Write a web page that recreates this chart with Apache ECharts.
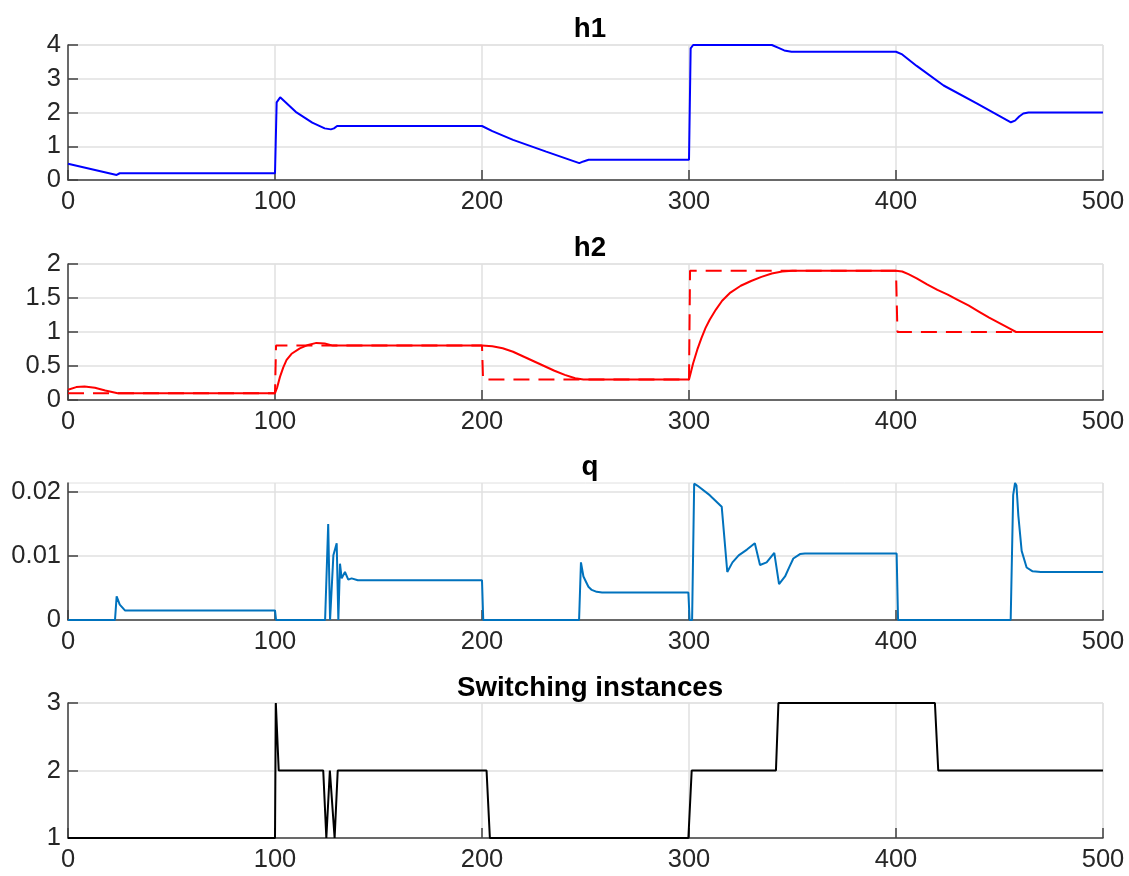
<!DOCTYPE html>
<html>
<head>
<meta charset="utf-8">
<title>h1 / h2 / q / switching</title>
<script src="https://cdn.jsdelivr.net/npm/echarts@6/dist/echarts.min.js"></script>
<style>
  html, body { margin: 0; padding: 0; background: #fff; }
  #chart { width: 1129px; height: 876px; }
</style>
</head>
<body>
<div id="chart"></div>
<script>
// tick labels of the shared x axis
const xTicks = [0, 100, 200, 300, 400, 500];

// h1 (blue)
const h1T = [0, 23.5, 25, 100, 100.8, 102.5, 110, 118, 124, 127, 128.5, 130, 200, 205, 215, 231, 247, 249, 251.5, 300, 300.8, 302, 340, 343, 346, 349.5, 400, 403, 410, 423, 439, 455.5, 457.5, 459.5, 461.5, 464, 500];
const h1V = [0.48, 0.15, 0.2, 0.2, 2.3, 2.45, 2.02, 1.7, 1.53, 1.5, 1.53, 1.6, 1.6, 1.45, 1.19, 0.84, 0.5, 0.55, 0.6, 0.6, 3.9, 4.0, 4.0, 3.92, 3.84, 3.8, 3.8, 3.72, 3.38, 2.8, 2.27, 1.71, 1.76, 1.88, 1.97, 2.0, 2.0];

// h2 (red solid) and its reference (red dashed)
const h2T = [0, 4, 8, 13, 18, 24, 100, 101, 102.4, 104, 105.6, 108, 112, 116, 120, 124, 128, 132, 200, 205, 210, 215, 220, 225, 230, 235, 240, 245, 249, 300, 301, 302, 304, 306, 308, 310, 313, 316, 320, 325, 330, 335, 340, 345, 350, 400, 403, 406, 410, 415, 420, 425, 430, 435, 440, 445, 450, 455, 458, 500];
const h2V = [0.15, 0.19, 0.2, 0.18, 0.14, 0.1, 0.1, 0.18, 0.34, 0.48, 0.59, 0.68, 0.76, 0.81, 0.84, 0.83, 0.8, 0.8, 0.8, 0.79, 0.76, 0.71, 0.64, 0.57, 0.5, 0.43, 0.37, 0.32, 0.3, 0.3, 0.42, 0.54, 0.74, 0.91, 1.06, 1.18, 1.33, 1.46, 1.58, 1.68, 1.75, 1.81, 1.86, 1.89, 1.9, 1.9, 1.89, 1.85, 1.79, 1.7, 1.62, 1.55, 1.47, 1.39, 1.3, 1.21, 1.13, 1.05, 1.0, 1.0];
const h2RefT = [0, 100, 100.5, 200, 200.5, 300, 300.5, 400, 400.7, 500];
const h2RefV = [0.1, 0.1, 0.8, 0.8, 0.3, 0.3, 1.9, 1.9, 1.0, 1.0];

// q
const qT = [0, 22.7, 23.5, 25, 27.5, 100, 100.5, 124.2, 125.7, 126.6, 128.2, 129.8, 130.6, 131.4, 132.2, 133.8, 135.4, 137, 140, 200, 200.6, 246.9, 247.8, 249, 251.4, 253, 255.4, 258, 299.7, 300.3, 301.5, 302.5, 304, 310, 315.8, 318.5, 321, 324, 328, 331.8, 334.3, 337.5, 341.2, 343.5, 346.4, 348.5, 350.4, 353.6, 356, 400.3, 401, 455.4, 456.6, 457.5, 458.2, 459.1, 460.7, 463.1, 466, 470, 500];
const qV = [0, 0, 0.0037, 0.0024, 0.0015, 0.0015, 0, 0, 0.015, 0, 0.0101, 0.012, 0, 0.0088, 0.0065, 0.0075, 0.0063, 0.0065, 0.0062, 0.0062, 0, 0, 0.009, 0.0068, 0.0052, 0.0047, 0.0044, 0.0043, 0.0043, 0, 0, 0.0213, 0.021, 0.0195, 0.0177, 0.0075, 0.009, 0.0101, 0.011, 0.012, 0.0086, 0.009, 0.0105, 0.0056, 0.0068, 0.0083, 0.0096, 0.0103, 0.0104, 0.0104, 0, 0, 0.0195, 0.0214, 0.021, 0.0163, 0.0108, 0.0082, 0.0076, 0.0075, 0.0075];

// switching instances
const swT = [0, 100, 100.4, 101.8, 123.3, 124.8, 126.5, 127.3, 128.8, 130.3, 202.2, 203.8, 299.7, 301.3, 342, 343.2, 418.8, 420.4, 500];
const swV = [1, 1, 3, 2, 2, 1, 2, 2, 1, 2, 2, 1, 1, 2, 2, 3, 3, 2, 2];

const titles = ['h1', 'h2', 'q', 'Switching instances'];

const zip = (t, v) => t.map((x, i) => [x, v[i]]);

const FONT = 'Liberation Sans, Arial, Helvetica, sans-serif';
const AXIS_COLOR = '#404040';
const GRID_COLOR = '#e0e0e0';

// plot boxes (top, height) in px
const boxes = [
  { top: 45, height: 135 },
  { top: 264, height: 136 },
  { top: 483, height: 137 },
  { top: 703, height: 135 }
];
const titleTops = [10, 229, 448, 669];

const yRanges = [
  { min: 0, max: 4, interval: 1 },
  { min: 0, max: 2, interval: 0.5 },
  { min: 0, max: 0.0214, interval: 0.01 },
  { min: 1, max: 3, interval: 1 }
];

const chart = echarts.init(document.getElementById('chart'));

const grid = boxes.map(b => ({
  left: 68, right: 26, top: b.top, height: b.height,
  show: true, borderColor: GRID_COLOR, borderWidth: 1
}));

const xAxis = boxes.map((b, i) => ({
  type: 'value', gridIndex: i, min: xTicks[0], max: xTicks[xTicks.length - 1], interval: 100,
  axisLine: { show: true, onZero: false, lineStyle: { color: AXIS_COLOR, width: 1.5 } },
  axisTick: { show: true, inside: true, length: 10, lineStyle: { color: AXIS_COLOR, width: 1.5 } },
  axisLabel: { color: '#262626', fontSize: 25.5, fontFamily: FONT, margin: 9 },
  splitLine: { show: true, lineStyle: { color: GRID_COLOR, width: 1.5 } }
}));

const yAxis = yRanges.map((r, i) => {
  const ax = {
    type: 'value', gridIndex: i, min: r.min, max: r.max, interval: r.interval,
    axisLine: { show: true, lineStyle: { color: AXIS_COLOR, width: 1.5 } },
    axisTick: { show: true, inside: true, length: 10, lineStyle: { color: AXIS_COLOR, width: 1.5 } },
    axisLabel: { color: '#262626', fontSize: 25.5, fontFamily: FONT, margin: 7 },
    splitLine: { show: true, lineStyle: { color: GRID_COLOR, width: 1.5 } }
  };
  if (i === 2) {
    // ylim goes a bit above 0.02, only the round ticks get labels
    ax.axisTick.customValues = [0, 0.01, 0.02];
    ax.axisLabel.customValues = [0, 0.01, 0.02];
  }
  return ax;
});

const lineSeries = (data, idx, color, extra) => Object.assign({
  type: 'line', xAxisIndex: idx, yAxisIndex: idx, data: data,
  showSymbol: false, symbol: 'none', smooth: false,
  lineStyle: { color: color, width: 2 }, z: 3
}, extra || {});

const option = {
  animation: false,
  backgroundColor: '#fff',
  title: titles.map((t, i) => ({
    text: t, left: 585, top: titleTops[i], textAlign: 'center',
    textStyle: { fontFamily: FONT, fontSize: 27.7, fontWeight: 'bold', color: '#000' }
  })),
  grid: grid,
  xAxis: xAxis,
  yAxis: yAxis,
  series: [
    lineSeries(zip(h1T, h1V), 0, '#0000ff'),
    lineSeries(zip(h2RefT, h2RefV), 1, '#ff0000', { lineStyle: { color: '#ff0000', width: 2, type: [16, 9] } }),
    lineSeries(zip(h2T, h2V), 1, '#ff0000'),
    lineSeries(zip(qT, qV), 2, '#0072bd'),
    lineSeries(zip(swT, swV), 3, '#000000')
  ]
};

chart.setOption(option);
</script>
</body>
</html>
